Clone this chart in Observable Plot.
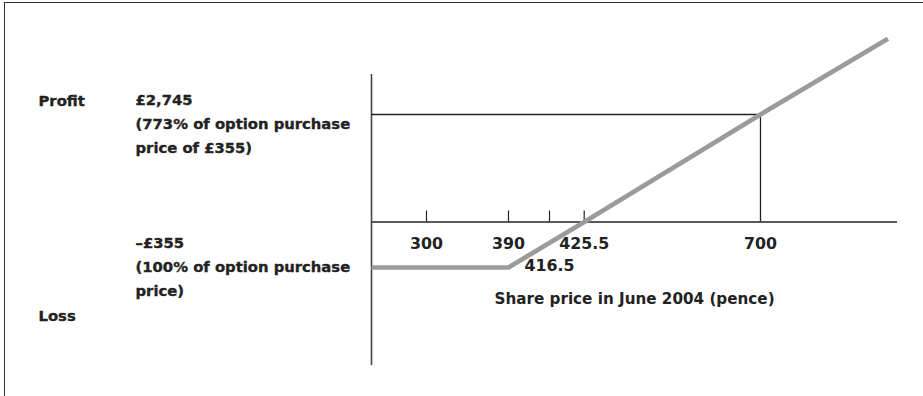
<!DOCTYPE html>
<html>
<head>
<meta charset="utf-8">
<script src="https://cdn.jsdelivr.net/npm/d3@7"></script>
<script src="https://cdn.jsdelivr.net/npm/@observablehq/plot@0.6"></script>
<style>
  html, body { margin: 0; padding: 0; background: #fff; }
  #wrap { position: relative; width: 923px; height: 396px; overflow: hidden; }
  #frame { position: absolute; left: 4px; top: 2px; width: 1000px; height: 1000px;
           border-top: 1.5px solid #333; border-left: 1.5px solid #333; }
  #chart { position: absolute; left: 0; top: 0; }
</style>
</head>
<body>
<div id="wrap"><div id="frame"></div><div id="chart"></div></div>
<script>
// Share price (pence) and profit (£) of the option position
const prices  = [240, 390, 425.5, 700, 900];
const profits = [-355, -355, 0, 2745, 4745];

// schematic (non-linear) axis breakpoints
const xBreaks = [240, 300, 390, 416.5, 425.5, 700, 915];
const yBreaks = [-1100, -355, 0, 2745, 3800];
const xExtent = [240, 915];
const yExtent = [-1100, 3800];

const tickValues = [300, 390, 416.5, 425.5];
const labelTicks = [300, 390, 425.5, 700];
const lowLabelTicks = [416.5];

const profitValue = 2745;
const lossValue = -355;
const targetPrice = 700;
const profitText = "£2,745\n(773% of option purchase\nprice of £355)";
const lossText = "–£355\n(100% of option purchase\nprice)";
const upLabel = "Profit";
const downLabel = "Loss";
const xTitle = "Share price in June 2004 (pence)";

const payoff = prices.map((p, i) => ({price: p, profit: profits[i]}));
const ink = "#222";
const heavy = {stroke: ink, strokeWidth: 0.35, fill: ink};

const chart = Plot.plot({
  width: 923,
  height: 396,
  marginLeft: 371,
  marginRight: 26,
  marginTop: 74,
  marginBottom: 174.5,
  style: {fontFamily: "DejaVu Sans", fontSize: "14.8px", fontWeight: "bold", color: ink, background: "transparent"},
  x: {type: "linear", domain: xBreaks, range: [371, 426, 508, 549, 583.7, 760, 897]},
  y: {type: "linear", domain: yBreaks, range: [365, 267, 221.5, 114, 74], axis: null},
  marks: [
    // axes lines
    Plot.ruleY([0], {x1: xExtent[0], x2: xExtent[1], stroke: ink, strokeWidth: 1.4}),
    Plot.ruleX([xExtent[0]], {y1: yExtent[0], y2: yExtent[1], stroke: "#444", strokeWidth: 1.6}),
    // reference lines at the 700p / £2,745 point
    Plot.ruleY([profitValue], {x1: xExtent[0], x2: targetPrice, stroke: ink, strokeWidth: 1.3}),
    Plot.ruleX([targetPrice], {y1: 0, y2: profitValue, stroke: ink, strokeWidth: 1.3}),
    // tick marks (upward)
    Plot.axisX(tickValues, {anchor: "bottom", tickSize: -11, tickFormat: () => "", stroke: ink, strokeWidth: 1.2, label: null}),
    // tick labels
    Plot.axisX(labelTicks, {anchor: "bottom", tickSize: 0, tickPadding: 15.3, fontSize: 15.8, tickFormat: d => String(d), label: null, ...heavy}),
    Plot.axisX(lowLabelTicks, {anchor: "bottom", tickSize: 0, tickPadding: 37.3, fontSize: 15.8, tickFormat: d => String(d), label: null, ...heavy}),
    Plot.axisX([], {anchor: "bottom", tickSize: 0, label: xTitle, labelAnchor: "center", labelOffset: 81.5, labelArrow: false, fontSize: 15.2, ...heavy}),
    // payoff line
    Plot.line(payoff, {x: "price", y: "profit", stroke: "#9b9b9b", strokeWidth: 4.7, strokeLinecap: "butt", strokeLinejoin: "miter"}),
    // left annotations
    Plot.text([upLabel], {frameAnchor: "left", y: profitValue, text: d => d, textAnchor: "start", lineAnchor: "bottom", dx: -333, dy: -9, ...heavy}),
    Plot.text([profitText], {frameAnchor: "left", y: profitValue, text: d => d, textAnchor: "start", lineAnchor: "bottom", lineHeight: 1.59, dx: -236, dy: 38, ...heavy}),
    Plot.text([lossText], {frameAnchor: "left", y: lossValue, text: d => d, textAnchor: "start", lineAnchor: "bottom", lineHeight: 1.59, dx: -236, dy: 28, ...heavy}),
    Plot.text([downLabel], {frameAnchor: "left", y: lossValue, text: d => d, textAnchor: "start", lineAnchor: "bottom", dx: -333, dy: 53, ...heavy})
  ]
});
document.getElementById("chart").appendChild(chart);
</script>
</body>
</html>
